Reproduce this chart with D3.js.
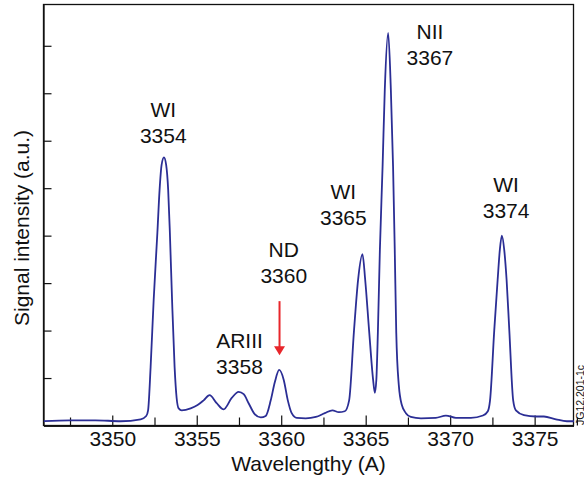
<!DOCTYPE html>
<html>
<head>
<meta charset="utf-8">
<script src="https://cdn.jsdelivr.net/npm/d3@7"></script>
<style>
  body { margin: 0; background: #fff; }
  text { font-family: "Liberation Sans", Arial, Helvetica, sans-serif; fill: #111; }
</style>
</head>
<body>
<svg id="chart" width="584" height="482"></svg>
<script>
// Emission spectrum: wavelength (Å) and signal intensity (a.u.)
const wavelength = [
  3345.95, 3347.5, 3349.0, 3350.5, 3351.68, 3352.01, 3352.12, 3352.27, 3352.45, 3352.67,
  3352.80, 3352.92, 3353.06, 3353.19, 3353.31, 3353.41, 3353.54, 3353.69, 3353.81, 3353.93,
  3354.11, 3354.64, 3355.05, 3355.41, 3355.76, 3356.18, 3356.59, 3357.07, 3357.48, 3357.78,
  3358.07, 3358.43, 3358.79, 3359.08, 3359.38, 3359.62, 3359.88, 3360.15, 3360.39, 3360.62,
  3360.92, 3361.45, 3362.05, 3362.58, 3363.03, 3363.41, 3363.76, 3364.02, 3364.31, 3364.55,
  3364.81, 3364.97, 3365.20, 3365.44, 3365.54, 3365.63, 3365.72, 3365.84, 3366.00, 3366.13,
  3366.33, 3366.49, 3366.62, 3366.72, 3366.81, 3366.96, 3367.14, 3367.38, 3367.67, 3368.27,
  3369.15, 3369.75, 3370.34, 3371.23, 3371.94, 3372.23, 3372.36, 3372.61, 3372.81, 3372.94,
  3373.06, 3373.20, 3373.34, 3373.50, 3373.73, 3373.89, 3374.37, 3375.08, 3375.55, 3376.26,
  3376.91, 3377.33
];
const intensity = [
  0.09, 0.11, 0.11, 0.09, 0.13, 0.20, 0.32, 1.23, 2.64, 4.06,
  4.96, 5.49, 5.65, 5.49, 4.96, 4.06, 2.64, 1.23, 0.58, 0.36,
  0.32, 0.36, 0.43, 0.53, 0.64, 0.47, 0.34, 0.58, 0.71, 0.66,
  0.47, 0.24, 0.17, 0.20, 0.53, 0.91, 1.17, 0.96, 0.53, 0.26,
  0.16, 0.15, 0.18, 0.26, 0.32, 0.28, 0.30, 0.53, 2.01, 3.07,
  3.61, 3.07, 2.01, 0.96, 0.69, 0.96, 1.95, 3.70, 5.46, 7.07,
  8.27, 7.07, 5.46, 3.70, 1.95, 0.85, 0.43, 0.26, 0.18, 0.15,
  0.16, 0.21, 0.16, 0.16, 0.21, 0.30, 0.53, 2.01, 3.07, 3.70,
  4.00, 3.70, 3.07, 2.01, 0.53, 0.32, 0.22, 0.19, 0.19, 0.13,
  0.09, 0.09
];

// Axis ticks
const xMajorTicks = [3350, 3355, 3360, 3365, 3370, 3375];
const xMinorTicks = [3347.5, 3352.5, 3357.5, 3362.5, 3367.5, 3372.5, 3377.5];
const yTicks = [1, 2, 3, 4, 5, 6, 7, 8];
const xDomain = [3345.93, 3377.3];
const yDomain = [0, 8.87];

// Line identifications (species, wavelength label, anchor in data units)
const lineSpecies = ["WI", "ARIII", "ND", "WI", "NII", "WI"];
const lineLabel = ["3354", "3358", "3360", "3365", "3367", "3374"];
const labelWavelength = [3353.02, 3357.53, 3360.15, 3363.68, 3368.80, 3373.31];
const labelIntensity = [5.95, 1.09, 3.01, 4.22, 7.60, 4.37];

// Marker arrow for the ND line
const arrowWavelength = 3359.9;
const arrowFrom = 2.62;
const arrowTo = 1.48;

const svg = d3.select("#chart");
const plotLeft = 43.5, plotRight = 573.5, plotTop = 4.5, plotBottom = 425.5;

const x = d3.scaleLinear().domain(xDomain).range([plotLeft, plotRight]);
const y = d3.scaleLinear().domain(yDomain).range([plotBottom, plotTop]);

// Frame
svg.append("rect")
  .attr("x", plotLeft).attr("y", plotTop)
  .attr("width", plotRight - plotLeft).attr("height", plotBottom - plotTop)
  .attr("fill", "none").attr("stroke", "#111").attr("stroke-width", 1.3);

// Bottom axis: major ticks with labels, minor ticks without
const xAxis = svg.append("g").attr("transform", `translate(0,${plotBottom})`)
  .call(d3.axisBottom(x).tickValues(xMajorTicks).tickFormat(d3.format("d"))
    .tickSize(-10).tickSizeOuter(0).tickPadding(6));
xAxis.attr("font-family", null).attr("font-size", null);
xAxis.selectAll("text").attr("font-size", 21).attr("fill", "#111");
svg.append("g").attr("transform", `translate(0,${plotBottom})`)
  .call(d3.axisBottom(x).tickValues(xMinorTicks).tickFormat("")
    .tickSize(-8).tickSizeOuter(0));

// Left axis: unlabeled ticks
svg.append("g").attr("transform", `translate(${plotLeft},0)`)
  .call(d3.axisLeft(y).tickValues(yTicks).tickFormat("")
    .tickSize(-8).tickSizeOuter(0));

svg.selectAll(".domain").attr("stroke", "#111").attr("stroke-width", 1.3);
svg.selectAll(".tick line").attr("stroke", "#111").attr("stroke-width", 1.2);

// Axis titles
svg.append("text")
  .attr("x", (plotLeft + plotRight) / 2).attr("y", 471)
  .attr("text-anchor", "middle").attr("font-size", 21)
  .text("Wavelengthy (A)");
svg.append("text")
  .attr("transform", `translate(28.5,228) rotate(-90)`)
  .attr("text-anchor", "middle").attr("font-size", 21)
  .text("Signal intensity (a.u.)");

// Spectrum trace
const points = wavelength.map((w, i) => [w, intensity[i]]);
svg.append("path")
  .datum(points)
  .attr("fill", "none")
  .attr("stroke", "#2b2e95")
  .attr("stroke-width", 1.8)
  .attr("stroke-linejoin", "round")
  .attr("d", d3.line().x(d => x(d[0])).y(d => y(d[1])).curve(d3.curveMonotoneX));

// Line identification labels
lineSpecies.forEach((name, i) => {
  const t = svg.append("text")
    .attr("text-anchor", "middle").attr("font-size", 21);
  t.append("tspan").attr("x", x(labelWavelength[i])).attr("y", y(labelIntensity[i]) - 26).text(name);
  t.append("tspan").attr("x", x(labelWavelength[i])).attr("y", y(labelIntensity[i])).text(lineLabel[i]);
});

// Red arrow pointing at the ND line
const ax = x(arrowWavelength);
svg.append("line")
  .attr("x1", ax).attr("x2", ax)
  .attr("y1", y(arrowFrom)).attr("y2", y(arrowTo) - 8)
  .attr("stroke", "#e8262b").attr("stroke-width", 2);
svg.append("path")
  .attr("d", `M${ax - 5.5},${y(arrowTo) - 9} L${ax + 5.5},${y(arrowTo) - 9} L${ax},${y(arrowTo)} Z`)
  .attr("fill", "#e8262b");

// Figure reference code
svg.append("text")
  .attr("transform", "translate(583.5,425) rotate(-90)")
  .attr("font-size", 10.5)
  .text("JG12.201-1c");
</script>
</body>
</html>
